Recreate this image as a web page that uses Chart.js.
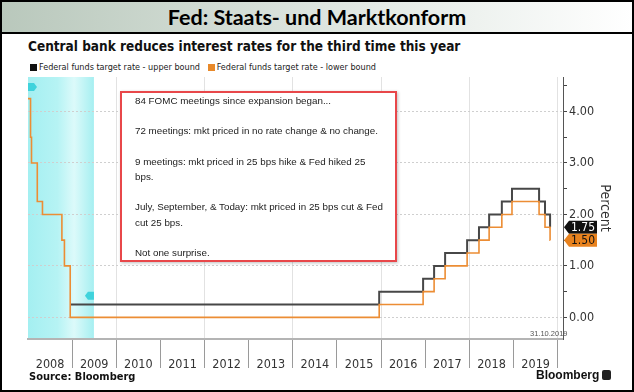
<!DOCTYPE html>
<html>
<head>
<meta charset="utf-8">
<script src="https://cdn.jsdelivr.net/npm/chart.js@4.4.1/dist/chart.umd.min.js"></script>
<style>
  html, body { margin: 0; padding: 0; background: #fff; }
  #page { position: relative; width: 634px; height: 392px; overflow: hidden; box-sizing: border-box; border: 2px solid #000; }
  #band { position: absolute; left: 0; top: 0; width: 630px; height: 30px; border-bottom: 2px solid #000;
          background: linear-gradient(to right, #b9c8bc 0%, #d9e2db 45%, #ffffff 100%);
          font: bold 21.5px Lato, "Open Sans", sans-serif; text-align: center; line-height: 31px; color: #000; }
  #subtitle { position: absolute; left: 26px; top: 36px; font: bold 13.5px "DejaVu Sans Condensed", "DejaVu Sans", sans-serif; color: #111; white-space: nowrap; }
  #legend { position: absolute; left: 28px; top: 60px; font: 9px "DejaVu Sans Condensed", "DejaVu Sans", sans-serif; color: #222; white-space: nowrap; }
  #legend span.sw { display: inline-block; width: 7px; height: 7px; margin-right: 2px; vertical-align: -0.5px; }
  #chartBox { position: absolute; left: -2px; top: 70px; width: 634px; height: 306px; }
  #note { position: absolute; left: 118px; top: 89px; width: 260px; height: 167px; border: 2px solid #e8474a; background: #fff;
          box-shadow: 1px 1px 3px rgba(0,0,0,0.25); padding: 0 0 0 13px;
          font: 9.8px "Liberation Sans", Arial, sans-serif; color: #222; line-height: 15.2px; white-space: nowrap; }
  #note p { margin: 0 0 15.2px 0; }
  #date { position: absolute; left: 528px; top: 327px; font: 7.5px "Liberation Sans", sans-serif; color: #555; }
  #source { position: absolute; left: 27px; top: 368px; font: bold 11px "DejaVu Sans Condensed", "DejaVu Sans", sans-serif; color: #111; }
  #logo { position: absolute; left: 534px; top: 366px; font: bold 12px "Liberation Sans", Arial, sans-serif; color: #111; }
  #logo span { display: inline-block; width: 9px; height: 10px; background: #222; border-radius: 2px; margin-left: 3px; vertical-align: -1px; }
</style>
</head>
<body>
<div id="page">
  <div id="band">Fed: Staats- und Marktkonform</div>
  <div id="subtitle">Central bank reduces interest rates for the third time this year</div>
  <div id="legend"><span class="sw" style="background:#111"></span>Federal funds target rate - upper bound&nbsp;&nbsp;&nbsp;<span class="sw" style="background:#e8892a"></span>Federal funds target rate - lower bound</div>
  <div id="chartBox"><canvas id="rateChart" width="634" height="306"></canvas></div>
  <div id="note">
    <p>84 FOMC meetings since expansion began...</p>
    <p>72 meetings: mkt priced in no rate change &amp; no change.</p>
    <p>9 meetings: mkt priced in 25 bps hike &amp; Fed hiked 25<br>bps.</p>
    <p>July, September, &amp; Today: mkt priced in 25 bps cut &amp; Fed<br>cut 25 bps.</p>
    <p>Not one surprise.</p>
  </div>
  <div id="date">31.10.2019</div>
  <div id="source">Source: Bloomberg</div>
  <div id="logo">Bloomberg<span></span></div>
</div>

<script>
// Dates when the target range changed (first entry = start of chart, last = data date)
const changeDates = [
    '2008-01-01', '2008-01-22', '2008-01-30', '2008-03-18', '2008-04-30',
    '2008-10-08', '2008-10-29', '2008-12-16', '2015-12-16', '2016-12-14',
    '2017-03-15', '2017-06-14', '2017-12-13', '2018-03-21', '2018-06-13',
    '2018-09-26', '2018-12-19', '2019-07-31', '2019-09-18', '2019-10-30',
    '2019-10-31'
];

// Upper and lower bound of the target range after each change
const upperBound = [4.25, 3.50, 3.00, 2.25, 2.00, 1.50, 1.00, 0.25, 0.50, 0.75,
                    1.00, 1.25, 1.50, 1.75, 2.00, 2.25, 2.50, 2.25, 2.00, 1.75, 1.75];
const lowerBound = [4.25, 3.50, 3.00, 2.25, 2.00, 1.50, 1.00, 0.00, 0.25, 0.50,
                    0.75, 1.00, 1.25, 1.50, 1.75, 2.00, 2.25, 2.00, 1.75, 1.50, 1.50];

// Recession period (shaded)
const recessionStart = '2007-12-01';
const recessionEnd = '2009-06-30';

// Axis ticks
const yearLabels = ['2008', '2009', '2010', '2011', '2012', '2013', '2014', '2015', '2016', '2017', '2018', '2019'];
const yTickValues = [0, 0.5, 1, 1.5, 2, 2.5, 3, 3.5, 4, 4.5];
const yTickLabels = ['0.00', '', '1.00', '', '2.00', '', '3.00', '', '4.00', ''];

// Converts "YYYY-MM-DD" into a decimal year for the linear x scale
function toYear(s) {
    let parts = s.split('-').map(Number);
    let start = Date.UTC(parts[0], 0, 1);
    let end = Date.UTC(parts[0] + 1, 0, 1);
    return parts[0] + (Date.UTC(parts[0], parts[1] - 1, parts[2]) - start) / (end - start);
}

function toPoints(values) {
    let pts = [];
    for (let i = 0; i < changeDates.length; i++) {
        pts.push({ x: toYear(changeDates[i]), y: values[i] });
    }
    return pts;
}

// x ticks: year boundaries plus mid-year positions that carry the labels
let xTickValues = [];
for (let i = 0; i <= yearLabels.length; i++) {
    xTickValues.push(2008 + i);
    if (i < yearLabels.length) xTickValues.push(2008 + i + 0.5);
}

// Shaded recession band, drawn before the grid
const recessionPlugin = {
    id: 'recession',
    beforeDraw(chart) {
        let ctx = chart.ctx;
        let area = chart.chartArea;
        let xs = chart.scales.x;
        let x0 = Math.max(area.left, xs.getPixelForValue(toYear(recessionStart)));
        let x1 = Math.min(area.right, xs.getPixelForValue(toYear(recessionEnd)));
        let grad = ctx.createLinearGradient(x0, 0, x1, 0);
        grad.addColorStop(0, '#a4eff1');
        grad.addColorStop(0.45, '#b6f3f4');
        grad.addColorStop(0.7, '#dcfafa');
        grad.addColorStop(1, '#a6eff1');
        ctx.save();
        ctx.fillStyle = grad;
        ctx.fillRect(x0, area.top, x1 - x0, area.bottom - area.top);

        // small recession markers
        ctx.fillStyle = '#3fd3dc';
        ctx.beginPath();
        ctx.moveTo(x0, area.top + 6);
        ctx.lineTo(x0 + 6, area.top + 6);
        ctx.lineTo(x0 + 9, area.top + 10);
        ctx.lineTo(x0 + 6, area.top + 14);
        ctx.lineTo(x0, area.top + 14);
        ctx.closePath();
        ctx.fill();
        let yb = chart.scales.y.getPixelForValue(0.42);
        ctx.beginPath();
        ctx.moveTo(x1, yb - 4);
        ctx.lineTo(x1 - 6, yb - 4);
        ctx.lineTo(x1 - 9, yb);
        ctx.lineTo(x1 - 6, yb + 4);
        ctx.lineTo(x1, yb + 4);
        ctx.closePath();
        ctx.fill();
        ctx.restore();
    }
};

// Value tags for the latest values on the right axis
const endTagPlugin = {
    id: 'endTags',
    afterDraw(chart) {
        let ctx = chart.ctx;
        let ys = chart.scales.y;
        let x0 = chart.chartArea.right + 1;
        let tags = [
            { value: upperBound[upperBound.length - 1], bg: '#111111', fg: '#ffffff' },
            { value: lowerBound[lowerBound.length - 1], bg: '#e8821e', fg: '#111111' }
        ];
        ctx.save();
        ctx.font = '12px "DejaVu Sans Condensed", "DejaVu Sans", sans-serif';
        ctx.textAlign = 'center';
        ctx.textBaseline = 'middle';
        for (let t of tags) {
            let y = ys.getPixelForValue(t.value);
            ctx.fillStyle = t.bg;
            ctx.beginPath();
            ctx.moveTo(x0, y);
            ctx.lineTo(x0 + 5, y - 6.5);
            ctx.lineTo(x0 + 33, y - 6.5);
            ctx.lineTo(x0 + 33, y + 6.5);
            ctx.lineTo(x0 + 5, y + 6.5);
            ctx.closePath();
            ctx.fill();
            ctx.fillStyle = t.fg;
            ctx.fillText(t.value.toFixed(2), x0 + 19, y + 0.5);
        }
        ctx.restore();
    }
};

let ctx = document.getElementById('rateChart').getContext('2d');

let rateChart = new Chart(ctx, {
    type: 'line',
    data: {
        datasets: [
            {
                label: 'Federal funds target rate - upper bound',
                data: toPoints(upperBound),
                borderColor: '#474747',
                borderWidth: 2,
                stepped: 'before',
                pointRadius: 0,
                order: 2,
                // before the range was introduced both bounds are equal: let the orange line show
                segment: {
                    borderColor: function (c) {
                        return upperBound[c.p0DataIndex] === lowerBound[c.p0DataIndex] ? 'transparent' : undefined;
                    }
                }
            },
            {
                label: 'Federal funds target rate - lower bound',
                data: toPoints(lowerBound),
                borderColor: '#ec8d34',
                borderWidth: 1.6,
                stepped: 'before',
                pointRadius: 0,
                order: 1
            }
        ]
    },
    options: {
        responsive: false,
        animation: false,
        layout: { padding: { left: 28, right: 19, top: 5, bottom: 9 } },
        plugins: {
            legend: { display: false },
            tooltip: { enabled: false }
        },
        scales: {
            x: {
                type: 'linear',
                min: 2008,
                max: 2020.12,
                afterBuildTicks: function (scale) {
                    scale.ticks = xTickValues.map(function (v) { return { value: v }; });
                },
                afterFit: function (scale) {
                    scale.height = 30;
                    scale.paddingLeft = 0;
                    scale.paddingRight = 0;
                },
                ticks: {
                    autoSkip: false,
                    maxRotation: 0,
                    padding: -11,
                    color: '#333',
                    font: { family: '"DejaVu Sans Condensed", "DejaVu Sans", sans-serif', size: 12.5 },
                    callback: function (value) {
                        let idx = Math.floor(value) - 2008;
                        return (value % 1 !== 0 && yearLabels[idx]) ? yearLabels[idx] : '';
                    }
                },
                grid: {
                    drawTicks: true,
                    tickLength: 29,
                    lineWidth: 1,
                    color: function (c) {
                        let v = c.tick ? c.tick.value : 0;
                        return (v % 2 === 0 && v > 2008) ? '#e2e2e2' : 'transparent';
                    },
                    tickColor: function (c) {
                        let v = c.tick ? c.tick.value : 0;
                        return (v % 1 === 0 && v > 2008) ? '#9a9a9a' : 'transparent';
                    }
                },
                border: { display: true, color: '#b4b4b4', width: 2 }
            },
            y: {
                type: 'linear',
                position: 'right',
                min: -0.42,
                max: 4.67,
                afterBuildTicks: function (scale) {
                    scale.ticks = yTickValues.map(function (v) { return { value: v }; });
                },
                afterFit: function (scale) {
                    scale.width = 52;
                    scale.paddingTop = 0;
                    scale.paddingBottom = 0;
                },
                ticks: {
                    padding: 2,
                    color: '#333',
                    font: { family: '"DejaVu Sans Condensed", "DejaVu Sans", sans-serif', size: 12.5 },
                    callback: function (value, index) {
                        return yTickLabels[index];
                    }
                },
                grid: {
                    drawTicks: true,
                    tickLength: 4,
                    color: function (c) {
                        let v = c.tick ? c.tick.value : 0.5;
                        return v % 1 === 0 ? '#cfcfcf' : 'transparent';
                    },
                    tickColor: '#444'
                },
                border: { display: true, color: '#555', width: 1, dash: [2, 2] },
                title: {
                    display: true,
                    text: 'Percent',
                    color: '#333',
                    padding: 2,
                    font: { family: '"DejaVu Sans Condensed", "DejaVu Sans", sans-serif', size: 14 }
                }
            }
        }
    },
    plugins: [recessionPlugin, endTagPlugin]
});
</script>
</body>
</html>
